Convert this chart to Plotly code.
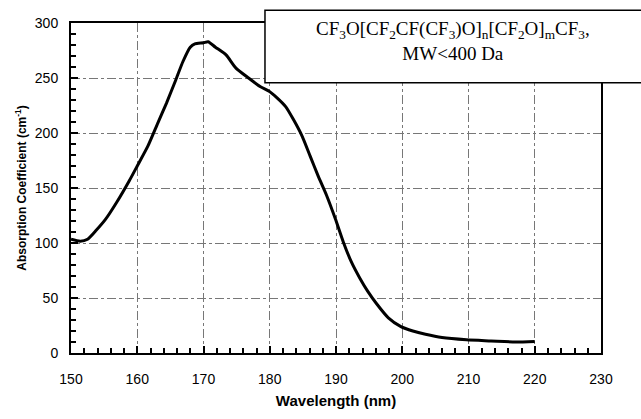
import plotly.graph_objects as go

wavelength = [150, 151.4, 152.5, 153.8, 155.2, 156.9, 158.8, 160, 161.6, 163.1, 164.4, 165.8,
              166.9, 168, 168.7, 170, 170.7, 171.8, 173.4, 174.9, 176.8, 178.6, 179.9, 181.1,
              182.4, 183.6, 184.9, 186.1, 187.3, 188.6, 189.9, 191.1, 192.3, 193.6, 194.8,
              196.1, 197.9, 199.8, 201.6, 203.5, 206, 209.7, 213.4, 217.1, 220]
absorption = [103.4, 101.6, 103.4, 111.5, 121.4, 137, 156.6, 170, 188, 209, 227, 248,
              265, 278, 281, 282, 283, 278, 271, 259, 250, 242, 238, 232,
              224, 212, 197, 179, 161, 143, 122, 101, 83, 68, 56,
              45, 32, 24, 20, 17, 14, 12, 11, 10, 10.5]

x_ticks = [150, 160, 170, 180, 190, 200, 210, 220, 230]
y_ticks = [0, 50, 100, 150, 200, 250, 300]
box_text = "CF<sub>3</sub>O[CF<sub>2</sub>CF(CF<sub>3</sub>)O]<sub>n</sub>[CF<sub>2</sub>O]<sub>m</sub>CF<sub>3</sub>,<br>MW&lt;400 Da"

fig = go.Figure()
fig.add_trace(go.Scatter(x=wavelength, y=absorption, mode="lines",
                         line=dict(color="black", width=3, shape="spline", smoothing=0.6),
                         showlegend=False, hoverinfo="skip"))

axis_common = dict(showline=True, linecolor="black", linewidth=2, mirror=True,
                   ticks="inside", ticklen=7, tickwidth=1.5, tickcolor="black",
                   showgrid=True, gridcolor="#777", gridwidth=1, griddash="dashdot",
                   zeroline=False,
                   tickfont=dict(family="Liberation Sans, Arial", size=14, color="black"))

fig.update_xaxes(range=[150, 230], tickvals=x_ticks, **axis_common, ticklabelstandoff=12,
                 minor=dict(dtick=2, ticks="inside", ticklen=5, tickcolor="black", showgrid=False),
                 title=dict(text="<b>Wavelength (nm)</b>", standoff=10,
                            font=dict(family="Liberation Sans, Arial", size=15, color="black")))
fig.update_yaxes(range=[0, 300], tickvals=y_ticks, **axis_common, ticklabelstandoff=8,
                 minor=dict(dtick=10, ticks="inside", ticklen=5, tickcolor="black", showgrid=False),
                 title=dict(text="<b>Absorption Coefficient (cm<sup>-1</sup>)</b>", standoff=6,
                            font=dict(family="Liberation Sans, Arial", size=12, color="black")))

fig.add_shape(type="rect", xref="paper", yref="paper", x0=0.366, x1=1.09, y0=0.819, y1=1.039,
              line=dict(color="black", width=1.5), fillcolor="white", layer="above")
fig.add_annotation(xref="paper", yref="paper", x=0.72, y=0.945, yanchor="middle", xanchor="center",
                   text=box_text, showarrow=False, align="center",
                   font=dict(family="Liberation Serif, Times New Roman", size=19, color="black"))

fig.update_layout(width=641, height=419, margin=dict(l=71, r=40, t=23, b=64),
                  paper_bgcolor="white", plot_bgcolor="white")

fig.write_html("out.html")
